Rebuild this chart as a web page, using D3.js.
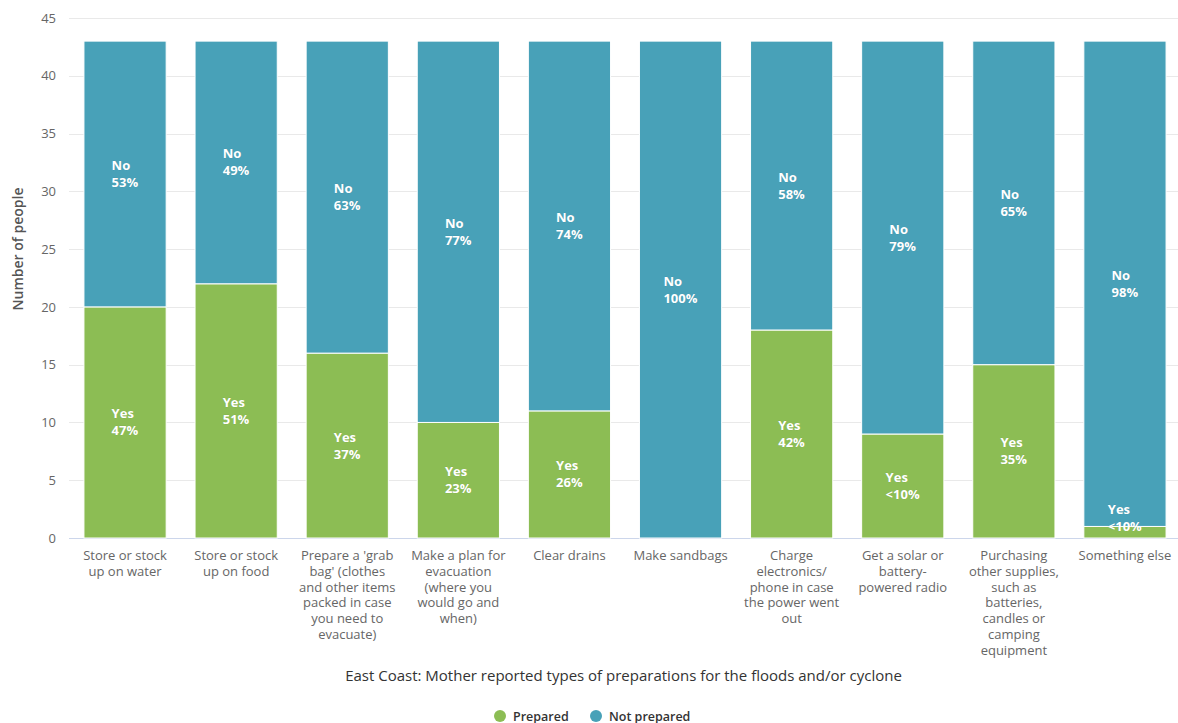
<!DOCTYPE html>
<html>
<head>
<meta charset="utf-8">
<script src="https://cdn.jsdelivr.net/npm/d3@7/dist/d3.min.js"></script>
<style>
  html, body { margin: 0; padding: 0; background: #fff; }
  svg { display: block; font-family: "Open Sans", "Noto Sans", sans-serif; }
</style>
</head>
<body>
<svg id="chart" width="1178" height="723"></svg>
<script>
// Preparation types (line breaks as shown under each column)
const categories = [
  "Store or stock\nup on water",
  "Store or stock\nup on food",
  "Prepare a 'grab\nbag' (clothes\nand other items\npacked in case\nyou need to\nevacuate)",
  "Make a plan for\nevacuation\n(where you\nwould go and\nwhen)",
  "Clear drains",
  "Make sandbags",
  "Charge\nelectronics/\nphone in case\nthe power went\nout",
  "Get a solar or\nbattery-\npowered radio",
  "Purchasing\nother supplies,\nsuch as\nbatteries,\ncandles or\ncamping\nequipment",
  "Something else"
];
// Number of people per answer
const prepared    = [20, 22, 16, 10, 11, 0, 18, 9, 15, 1];
const notPrepared = [23, 21, 27, 33, 32, 43, 25, 34, 28, 42];
// Share labels printed on each segment
const preparedLabels    = ["47%", "51%", "37%", "23%", "26%", "", "42%", "<10%", "35%", "<10%"];
const notPreparedLabels = ["53%", "49%", "63%", "77%", "74%", "100%", "58%", "79%", "65%", "98%"];
const yTicks = [0, 5, 10, 15, 20, 25, 30, 35, 40, 45];
const seriesNames = ["Prepared", "Not prepared"];
const colors = ["#8cbd54", "#48a1b8"];

const svg = d3.select("#chart");
const W = 1178;
const plotLeft = 69.5, plotRight = 1180.5, plotTop = 18, plotBottom = 538;

const x = d3.scaleBand().domain(d3.range(categories.length))
  .range([plotLeft, plotRight]).paddingInner(0.26).paddingOuter(0.13);
const y = d3.scaleLinear().domain([0, 45]).range([plotBottom, plotTop]);

// grid lines
svg.append("g").selectAll("line").data(yTicks).join("line")
  .attr("x1", 69).attr("x2", W)
  .attr("y1", d => Math.round(y(d)) + 0.5).attr("y2", d => Math.round(y(d)) + 0.5)
  .attr("stroke", d => d === 0 ? "#ccd6eb" : "#e9e9e9").attr("stroke-width", 1);

// y axis
const yAxis = svg.append("g").attr("transform", `translate(56,0)`)
  .call(d3.axisLeft(y).tickValues(yTicks).tickSize(0).tickPadding(0));
yAxis.select(".domain").remove();
yAxis.selectAll("text").attr("fill", "#666").attr("font-size", 13)
  .attr("font-family", "Open Sans, sans-serif");

svg.append("text")
  .attr("transform", `translate(23,249) rotate(-90)`)
  .attr("text-anchor", "middle").attr("fill", "#555")
  .attr("font-size", 14).attr("font-weight", 600)
  .text("Number of people");

// stacked data
const rows = categories.map((c, i) => ({ i, prepared: prepared[i], notPrepared: notPrepared[i] }));
const stack = d3.stack().keys(["prepared", "notPrepared"]);
const series = stack(rows);

const bars = svg.append("g");
series.forEach((s, si) => {
  bars.append("g").attr("fill", colors[si]).selectAll("rect").data(s).join("rect")
    .attr("x", d => x(d.data.i))
    .attr("width", x.bandwidth())
    .attr("y", d => y(d[1]))
    .attr("height", d => Math.max(0, y(d[0]) - y(d[1])))
    .attr("stroke", "#fff").attr("stroke-width", d => (d[1] - d[0]) > 0 ? 1 : 0);
});

// segment labels: two lines, left-aligned block centred in the segment
const labelG = svg.append("g");
series.forEach((s, si) => {
  s.forEach(d => {
    const i = d.data.i;
    const val = d[1] - d[0];
    if (val <= 0) return;
    const word = si === 0 ? "Yes" : "No";
    const pct = si === 0 ? preparedLabels[i] : notPreparedLabels[i];
    let cy = (y(d[0]) + y(d[1])) / 2;
    cy = Math.min(cy, plotBottom - 20);
    const g = labelG.append("g");
    const t = g.append("text")
      .attr("font-size", 13).attr("font-weight", 700).attr("fill", "#fff")
      .attr("stroke", "rgba(0,0,0,0.12)").attr("stroke-width", 0.6).attr("paint-order", "stroke");
    t.append("tspan").attr("x", 0).attr("y", cy - 4).text(word);
    t.append("tspan").attr("x", 0).attr("y", cy + 13).text(pct);
    const w = t.node().getBBox().width;
    g.attr("transform", `translate(${x(i) + x.bandwidth() / 2 - w / 2},0)`);
  });
});

// category labels
const catG = svg.append("g");
categories.forEach((c, i) => {
  const t = catG.append("text").attr("text-anchor", "middle")
    .attr("fill", "#666").attr("font-size", 13);
  c.split("\n").forEach((line, li) => {
    t.append("tspan").attr("x", x(i) + x.bandwidth() / 2)
      .attr("y", 560 + li * 15.8).text(line);
  });
});

// x axis title
svg.append("text").attr("x", (69 + W) / 2).attr("y", 681)
  .attr("text-anchor", "middle").attr("fill", "#333").attr("font-size", 15)
  .text("East Coast: Mother reported types of preparations for the floods and/or cyclone");

// legend
const legend = svg.append("g");
const legendX = [500, 596];
seriesNames.forEach((n, k) => {
  legend.append("circle").attr("cx", legendX[k]).attr("cy", 716).attr("r", 6).attr("fill", colors[k]);
  legend.append("text").attr("x", legendX[k] + 13).attr("y", 720.5)
    .attr("fill", "#333").attr("font-size", 12.5).attr("font-weight", 600).text(n);
});
</script>
</body>
</html>
